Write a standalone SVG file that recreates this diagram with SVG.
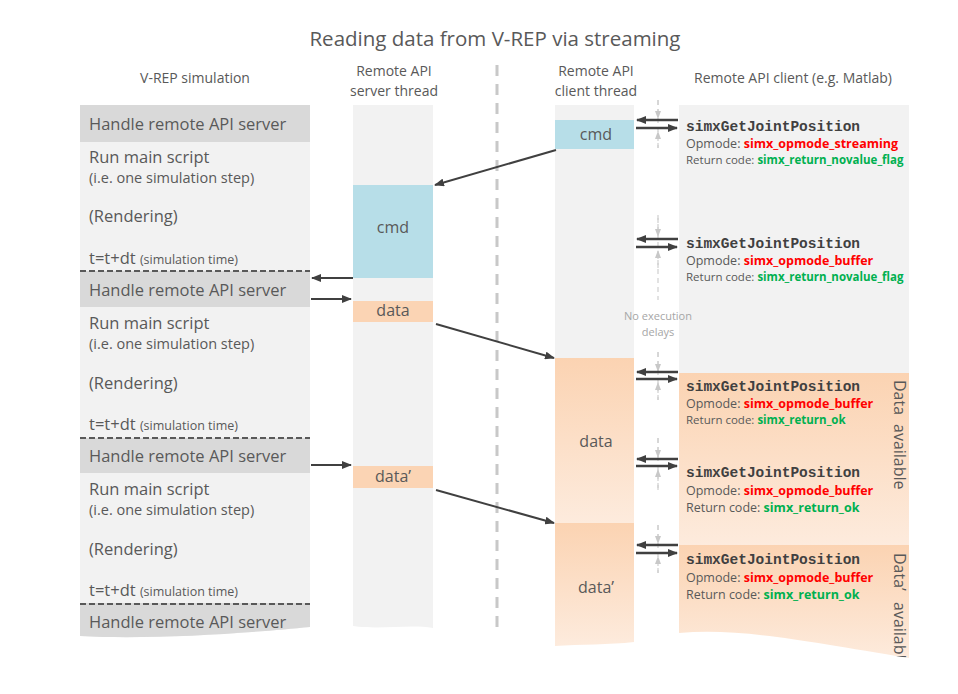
<svg xmlns="http://www.w3.org/2000/svg" width="958" height="694" viewBox="0 0 958 694">
<style>
text{font-family:"Open Sans","Noto Sans","Liberation Sans",sans-serif;fill:#595959}
.hd{font-size:14px;text-anchor:middle}
.big{font-size:16.5px}
.sm{font-size:14.5px}
.xs{font-size:12.5px}
.lbl{font-size:16px;text-anchor:middle}
.mono{font-family:"Liberation Mono","DejaVu Sans Mono",monospace;font-weight:bold;font-size:14.5px;fill:#404040}
.op{font-size:12.5px}
.rc{font-size:11.5px}
.red{fill:#ff0000;font-weight:bold}
.grn{fill:#00b050;font-weight:bold}
.arr{stroke:#404040;stroke-width:2;fill:none;marker-end:url(#ah)}
.pr{stroke:#404040;stroke-width:2.5;fill:none;marker-end:url(#ah2)}
.dl{stroke:#595959;stroke-width:2;stroke-dasharray:6,3}
.vd{stroke:#cfcfcf;stroke-width:1.2;stroke-dasharray:5,4;fill:none}
</style>
<defs>
<marker id="ah" markerWidth="10" markerHeight="8" refX="9" refY="4" orient="auto" markerUnits="userSpaceOnUse">
<path d="M0,0 L10,4 L0,8 Z" fill="#404040"/>
</marker>
<marker id="ah2" markerWidth="10" markerHeight="8" refX="9" refY="4" orient="auto" markerUnits="userSpaceOnUse">
<path d="M0,0 L10,4 L0,8 Z" fill="#404040"/>
</marker>
<marker id="sa" markerWidth="8" markerHeight="6" refX="7" refY="3" orient="auto" markerUnits="userSpaceOnUse">
<path d="M0,0 L8,3 L0,6 Z" fill="#c8c8c8"/>
</marker>
<linearGradient id="og" x1="0" y1="0" x2="0" y2="1">
<stop offset="0" stop-color="#fbd3b2"/>
<stop offset="1" stop-color="#fdebdd"/>
</linearGradient>
<clipPath id="clientClip">
<path d="M679,105 H909 V658 C800,640 740,628 679,633 Z"/>
</clipPath>
</defs>

<text x="495" y="46" style="font-size:20.5px;text-anchor:middle">Reading data from V-REP via streaming</text>

<g id="headers">
<text class="hd" x="195" y="83">V-REP simulation</text>
<text class="hd" x="394" y="76">Remote API</text>
<text class="hd" x="394" y="96">server thread</text>
<text class="hd" x="596" y="76">Remote API</text>
<text class="hd" x="596" y="96">client thread</text>
<text class="hd" x="793" y="83">Remote API client (e.g. Matlab)</text>
</g>

<line x1="497" y1="65" x2="497" y2="635" stroke="#c8c8c8" stroke-width="3" stroke-dasharray="11,8"/>

<g id="vrep-simulation">
<path d="M80,105 H310 V627 C250,633 150,640 80,636 Z" fill="#f2f2f2"/>
<rect x="80" y="105" width="230" height="37" fill="#d9d9d9"/>
<rect x="80" y="271" width="230" height="36" fill="#d9d9d9"/>
<rect x="80" y="438" width="230" height="35" fill="#d9d9d9"/>
<path d="M80,603 H310 V627 C250,633 150,640 80,636 Z" fill="#d9d9d9"/>
<line class="dl" x1="80" y1="271" x2="310" y2="271"/>
<line class="dl" x1="80" y1="438" x2="310" y2="438"/>
<line class="dl" x1="80" y1="604" x2="310" y2="604"/>
<text class="big" x="89" y="130">Handle remote API server</text>
<text class="big" x="89" y="163">Run main script</text>
<text class="sm" x="89" y="183">(i.e. one simulation step)</text>
<text class="big" x="89" y="222">(Rendering)</text>
<text x="89" y="264"><tspan class="big">t=t+dt </tspan><tspan class="xs">(simulation time)</tspan></text>
<text class="big" x="89" y="296">Handle remote API server</text>
<text class="big" x="89" y="329">Run main script</text>
<text class="sm" x="89" y="349">(i.e. one simulation step)</text>
<text class="big" x="89" y="389">(Rendering)</text>
<text x="89" y="430"><tspan class="big">t=t+dt </tspan><tspan class="xs">(simulation time)</tspan></text>
<text class="big" x="89" y="462">Handle remote API server</text>
<text class="big" x="89" y="495">Run main script</text>
<text class="sm" x="89" y="515">(i.e. one simulation step)</text>
<text class="big" x="89" y="555">(Rendering)</text>
<text x="89" y="596"><tspan class="big">t=t+dt </tspan><tspan class="xs">(simulation time)</tspan></text>
<text class="big" x="89" y="628">Handle remote API server</text>
</g>

<g id="server-thread">
<path d="M353,105 H433 V628 C410,624 380,630 353,626 Z" fill="#f2f2f2"/>
<rect id="server-cmd" x="353" y="185" width="80" height="93" fill="#b7dee8"/>
<text class="lbl" x="393" y="233">cmd</text>
<rect id="server-data" x="353" y="301" width="80" height="21" fill="#fbd4b4"/>
<text class="lbl" x="393" y="316">data</text>
<rect id="server-data2" x="353" y="466" width="80" height="22" fill="#fbd4b4"/>
<text class="lbl" x="393" y="482">data’</text>
</g>

<g id="client-thread">
<rect x="555" y="105" width="79" height="253" fill="#f2f2f2"/>
<rect id="client-cmd" x="555" y="120" width="79" height="29" fill="#b7dee8"/>
<text class="lbl" x="596" y="140">cmd</text>
<rect id="client-data" x="555" y="358" width="79" height="165" fill="url(#og)"/>
<text class="lbl" x="596" y="447">data</text>
<path id="client-data2" d="M555,523 H634 V642 C610,645 580,644 555,646 Z" fill="url(#og)"/>
<text class="lbl" x="596" y="593">data’</text>
</g>

<g id="api-client" clip-path="url(#clientClip)">
<rect x="679" y="105" width="230" height="268" fill="#f2f2f2"/>
<rect x="679" y="373" width="230" height="172" fill="url(#og)"/>
<rect x="679" y="545" width="230" height="115" fill="url(#og)"/>
<text transform="translate(894,380) rotate(90)" style="font-size:16px">Data</text>
<text transform="translate(894,424) rotate(90)" style="font-size:16px">available</text>
<text transform="translate(894,553) rotate(90)" style="font-size:16px">Data’</text>
<text transform="translate(894,602) rotate(90)" style="font-size:16px">available</text>
</g>

<g id="call1">
<text class="mono" x="686" y="131">simxGetJointPosition</text>
<text class="op" x="686" y="148">Opmode: <tspan class="red">simx_opmode_streaming</tspan></text>
<text class="rc" x="686" y="164">Return code: <tspan class="grn">simx_return_novalue_flag</tspan></text>
</g>
<g id="call2">
<text class="mono" x="686" y="248">simxGetJointPosition</text>
<text class="op" x="686" y="265">Opmode: <tspan class="red">simx_opmode_buffer</tspan></text>
<text class="rc" x="686" y="281">Return code: <tspan class="grn">simx_return_novalue_flag</tspan></text>
</g>
<g id="call3">
<text class="mono" x="686" y="391">simxGetJointPosition</text>
<text class="op" x="686" y="408">Opmode: <tspan class="red">simx_opmode_buffer</tspan></text>
<text class="rc" x="686" y="424">Return code: <tspan class="grn">simx_return_ok</tspan></text>
</g>
<g id="call4">
<text class="mono" x="686" y="477">simxGetJointPosition</text>
<text class="op" x="686" y="495">Opmode: <tspan class="red">simx_opmode_buffer</tspan></text>
<text class="op" x="686" y="512">Return code: <tspan class="grn">simx_return_ok</tspan></text>
</g>
<g id="call5">
<text class="mono" x="686" y="564">simxGetJointPosition</text>
<text class="op" x="686" y="582">Opmode: <tspan class="red">simx_opmode_buffer</tspan></text>
<text class="op" x="686" y="599">Return code: <tspan class="grn">simx_return_ok</tspan></text>
</g>

<g id="no-delay">
<text x="658" y="320" style="font-size:11px;fill:#a6a6a6;text-anchor:middle">No execution</text>
<text x="658" y="336" style="font-size:11px;fill:#a6a6a6;text-anchor:middle">delays</text>
<path class="vd" d="M658,100 V148"/>
<path class="vd" d="M658,100 V118" marker-end="url(#sa)"/>
<path class="vd" d="M658,148 V132" marker-end="url(#sa)"/>
<path class="vd" d="M658,215 V300"/>
<path class="vd" d="M658,218 V236" marker-end="url(#sa)"/>
<path class="vd" d="M658,268 V251" marker-end="url(#sa)"/>
<path class="vd" d="M658,352 V400"/>
<path class="vd" d="M658,352 V371" marker-end="url(#sa)"/>
<path class="vd" d="M658,400 V383" marker-end="url(#sa)"/>
<path class="vd" d="M658,438 V490"/>
<path class="vd" d="M658,438 V457" marker-end="url(#sa)"/>
<path class="vd" d="M658,490 V470" marker-end="url(#sa)"/>
<path class="vd" d="M658,525 V573"/>
<path class="vd" d="M658,525 V543" marker-end="url(#sa)"/>
<path class="vd" d="M658,573 V557" marker-end="url(#sa)"/>
</g>

<g id="connectors">
<line class="arr" x1="556" y1="150" x2="435" y2="185"/>
<line class="arr" x1="353" y1="278" x2="312" y2="278"/>
<line class="arr" x1="311" y1="299" x2="351" y2="299"/>
<line class="arr" x1="436" y1="324" x2="554" y2="358"/>
<line class="arr" x1="311" y1="465" x2="351" y2="465"/>
<line class="arr" x1="436" y1="490" x2="554" y2="523"/>
<line class="pr" x1="678" y1="120" x2="637" y2="120"/>
<line class="pr" x1="636" y1="128" x2="677" y2="128"/>
<line class="pr" x1="678" y1="239" x2="637" y2="239"/>
<line class="pr" x1="636" y1="247" x2="677" y2="247"/>
<line class="pr" x1="678" y1="372" x2="637" y2="372"/>
<line class="pr" x1="636" y1="379" x2="677" y2="379"/>
<line class="pr" x1="678" y1="459" x2="637" y2="459"/>
<line class="pr" x1="636" y1="466" x2="677" y2="466"/>
<line class="pr" x1="678" y1="545" x2="637" y2="545"/>
<line class="pr" x1="636" y1="553" x2="677" y2="553"/>
</g>
</svg>
